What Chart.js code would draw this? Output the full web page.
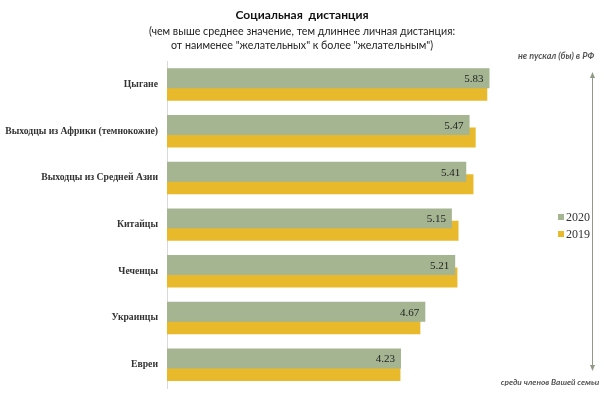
<!DOCTYPE html>
<html>
<head>
<meta charset="utf-8">
<script src="https://cdn.jsdelivr.net/npm/chart.js@4.4.1/dist/chart.umd.min.js"></script>
<style>
    html, body { margin: 0; padding: 0; background: #fff; }
    #wrap { width: 604px; height: 397px; position: relative; }
</style>
</head>
<body>
<div id="wrap"><canvas id="chart" width="604" height="397"></canvas></div>
<script>
// ---------- DATA ----------
const categories = [
    'Цыгане',
    'Выходцы из Африки (темнокожие)',
    'Выходцы из Средней Азии',
    'Китайцы',
    'Чеченцы',
    'Украинцы',
    'Евреи'
];
const values2020 = [5.83, 5.47, 5.41, 5.15, 5.21, 4.67, 4.23];
const values2019 = [5.79, 5.58, 5.54, 5.27, 5.25, 4.58, 4.22];
const seriesLabels = ['2020', '2019'];

const GREEN = '#a5b592';
const YELLOW = '#e8b92a';
const TEXT = '#333333';
const SERIF = '"Liberation Serif", serif';

// ---------- value labels on the 2020 bars ----------
const valueLabels = {
    id: 'valueLabels',
    afterDatasetsDraw(chart) {
        const ctx = chart.ctx;
        const meta = chart.getDatasetMeta(0);
        ctx.save();
        ctx.font = '11px ' + SERIF;
        ctx.fillStyle = '#222';
        ctx.textAlign = 'right';
        ctx.textBaseline = 'middle';
        meta.data.forEach((bar, i) => {
            ctx.fillText(values2020[i].toFixed(2), bar.x - 6, bar.y + 1);
        });
        ctx.restore();
    }
};

// ---------- legend (small squares on the right) ----------
const sideLegend = {
    id: 'sideLegend',
    afterDraw(chart) {
        const ctx = chart.ctx;
        ctx.save();
        ctx.font = '12px ' + SERIF;
        ctx.textBaseline = 'middle';
        ctx.textAlign = 'left';
        chart.data.datasets.forEach((ds, i) => {
            const y = 217 + i * 17;
            ctx.fillStyle = ds.backgroundColor;
            ctx.fillRect(558, y - 3, 6, 6);
            ctx.fillStyle = TEXT;
            ctx.fillText(ds.label, 566, y + 1);
        });
        ctx.restore();
    }
};

// ---------- side arrow with captions ----------
const sideArrow = {
    id: 'sideArrow',
    afterDraw(chart) {
        const ctx = chart.ctx;
        const x = 592, top = 72, bottom = 371;
        ctx.save();
        ctx.strokeStyle = '#8f9a86';
        ctx.fillStyle = '#8f9a86';
        ctx.lineWidth = 1;
        ctx.beginPath();
        ctx.moveTo(x + 0.5, top + 4);
        ctx.lineTo(x + 0.5, bottom - 4);
        ctx.stroke();
        ctx.beginPath();
        ctx.moveTo(x + 0.5, top); ctx.lineTo(x - 2, top + 6); ctx.lineTo(x + 3, top + 6);
        ctx.closePath(); ctx.fill();
        ctx.beginPath();
        ctx.moveTo(x + 0.5, bottom); ctx.lineTo(x - 2, bottom - 6); ctx.lineTo(x + 3, bottom - 6);
        ctx.closePath(); ctx.fill();

        ctx.fillStyle = '#555';
        ctx.textAlign = 'center';
        ctx.textBaseline = 'middle';
        ctx.font = 'italic bold 9px Lato, sans-serif';
        ctx.fillText('не пускал (бы) в РФ', 556, 56);
        ctx.font = 'italic bold 8.3px Lato, sans-serif';
        ctx.fillText('среди членов Вашей семьи', 550, 382);
        ctx.restore();
    }
};

new Chart(document.getElementById('chart'), {
    type: 'bar',
    data: {
        labels: categories,
        datasets: [
            { label: seriesLabels[0], data: values2020, backgroundColor: GREEN },
            { label: seriesLabels[1], data: values2019, backgroundColor: YELLOW }
        ]
    },
    options: {
        indexAxis: 'y',
        responsive: false,
        animation: false,
        categoryPercentage: 0.535,
        barPercentage: 1.6,
        layout: { padding: { left: 0, right: 0, bottom: 9 } },
        plugins: {
            title: {
                display: true,
                text: 'Социальная  дистанция',
                color: '#111',
                font: { family: 'Lato, sans-serif', size: 12, weight: 'bold' },
                padding: { top: 8, bottom: 2 }
            },
            subtitle: {
                display: true,
                text: [
                    '(чем выше среднее значение, тем длиннее личная дистанция:',
                    'от наименее "желательных" к более "желательным")'
                ],
                color: '#222',
                font: { family: 'Lato, sans-serif', size: 10.7, lineHeight: 1.3 },
                padding: { top: 0, bottom: 9 }
            },
            legend: { display: false },
            tooltip: { enabled: false }
        },
        scales: {
            x: {
                display: false,
                min: 0,
                max: 7.9
            },
            y: {
                // tick marks stay hidden, their length only spaces the labels from the axis
                grid: { display: false, drawTicks: true, tickLength: 9 },
                border: { display: true, color: '#d9d9d9' },
                afterFit(scale) { scale.width = 167; },
                ticks: {
                    color: TEXT,
                    padding: 0,
                    font: { family: SERIF, size: 9.7, weight: 'bold' }
                }
            }
        }
    },
    plugins: [valueLabels, sideLegend, sideArrow]
});
</script>
</body>
</html>
